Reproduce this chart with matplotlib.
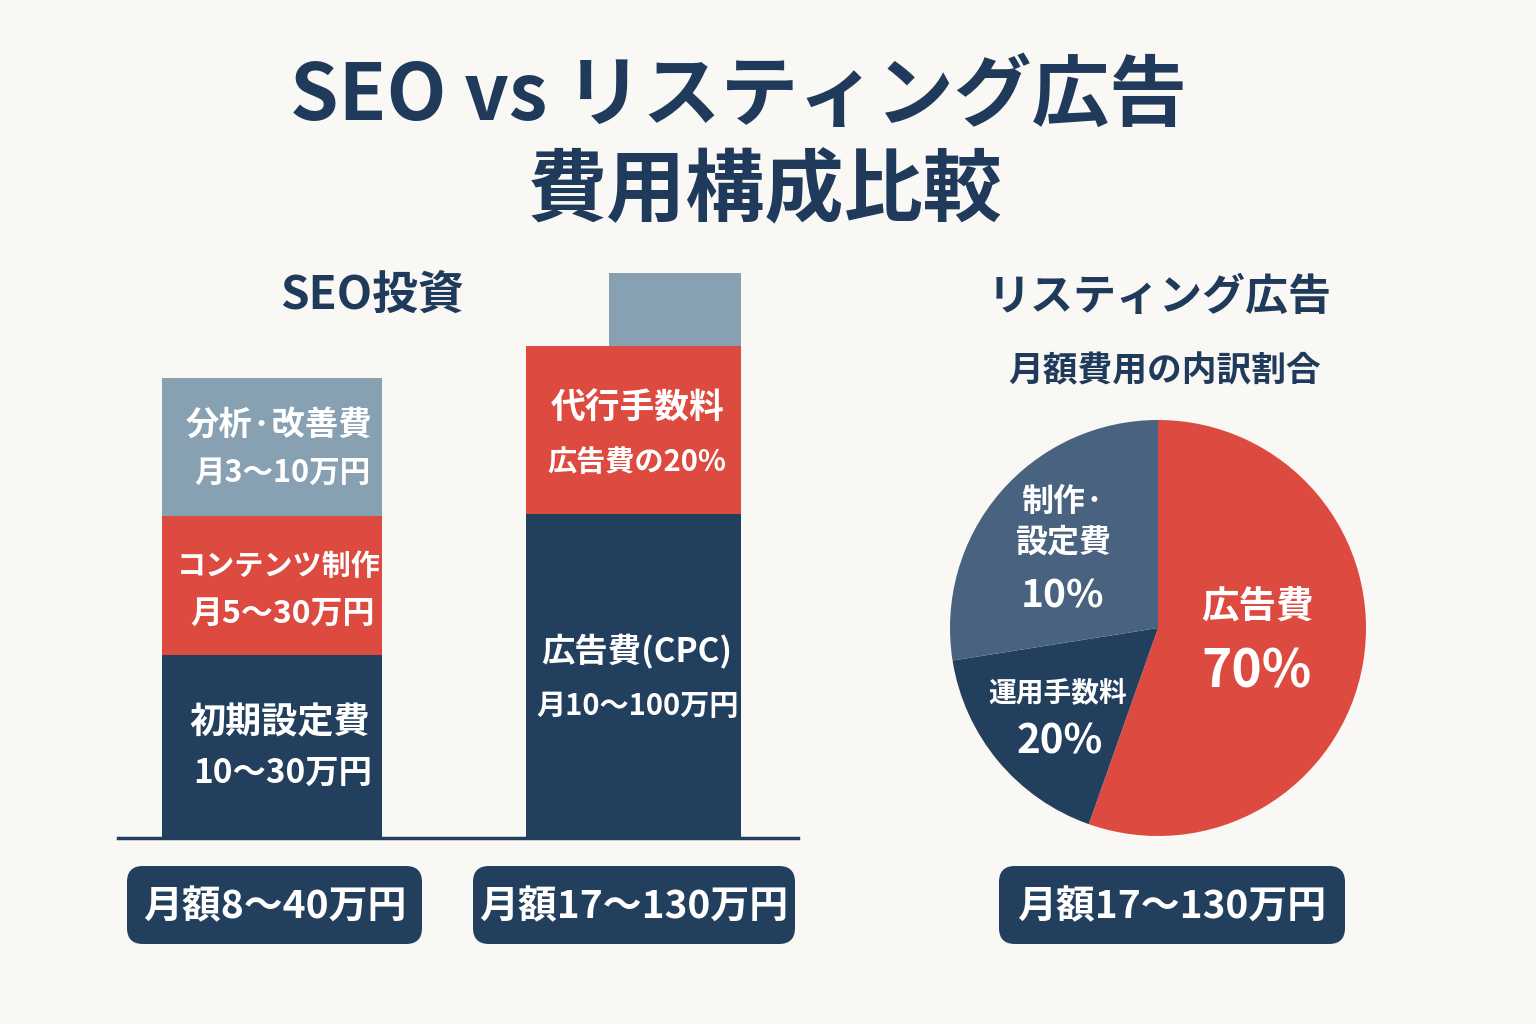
import matplotlib
matplotlib.use("Agg")
import matplotlib.pyplot as plt
from matplotlib.patches import FancyBboxPatch

plt.rcParams['font.family'] = ['Noto Sans CJK JP', 'DejaVu Sans']

# ---------------- data ----------------
title_lines = ["SEO vs リスティング広告", "費用構成比較"]
seo_title = "SEO投資"
listing_title = "リスティング広告"
listing_subtitle = "月額費用の内訳割合"

# stacked segments (bottom -> top), heights in relative units as drawn
seo_heights = [183, 139, 138]
seo_names = ["初期設定費", "コンテンツ制作", "分析·改善費"]
seo_ranges = ["10〜30万円", "月5〜30万円", "月3〜10万円"]

listing_heights = [324, 168, 73]
listing_names = ["広告費(CPC)", "代行手数料", ""]
listing_ranges = ["月10〜100万円", "広告費の20%", ""]

totals = ["月額8〜40万円", "月額17〜130万円", "月額17〜130万円"]

pie_names = ["広告費", "運用手数料", "制作·\n設定費"]
pie_labels = ["70%", "20%", "10%"]
pie_shares = [55.4, 17.1, 27.5]   # slice sizes as drawn

# ---------------- style ----------------
BG = "#f9f8f4"
NAVY = "#233f5e"
RED = "#dd4a3f"
SLATE = "#87a1b3"
PIE_SLATE = "#48627f"
TXT = "#1f3a5a"
seg_colors = [NAVY, RED, SLATE]
pie_colors = [RED, NAVY, PIE_SLATE]

W, H = 1536, 1024
fig = plt.figure(figsize=(W / 100, H / 100), dpi=100, facecolor=BG)

def fx(px):
    return px / W

def fy(py):
    return 1 - py / H

# ---------------- titles ----------------
fig.text(fx(738), fy(97), title_lines[0], ha='center', va='center',
         fontsize=56, fontweight='bold', color=TXT)
fig.text(fx(765), fy(192), title_lines[1], ha='center', va='center',
         fontsize=57, fontweight='bold', color=TXT)
fig.text(fx(372), fy(297), seo_title, ha='center', va='center',
         fontsize=33, fontweight='bold', color=TXT)
fig.text(fx(1160), fy(297), listing_title, ha='center', va='center',
         fontsize=31, fontweight='bold', color=TXT)
fig.text(fx(1165), fy(371), listing_subtitle, ha='center', va='center',
         fontsize=25, fontweight='bold', color=TXT)

# ---------------- bar chart ----------------
left_px, right_px, base_px, top_px = 118, 798, 838, 260
axb = fig.add_axes([fx(left_px), fy(base_px), (right_px - left_px) / W,
                    (base_px - top_px) / H])
axb.set_facecolor('none')
unit = 361.5
axb.set_xlim((left_px - 272) / unit, (right_px - 272) / unit)
axb.set_ylim(0, base_px - top_px)

seo_w = 220 / unit
lst_w = 215 / unit
# label styles (bottom -> top): (name offset, name size, range offset, range size)
seo_lbl = [(24, 26, -27, 24), (20, 21, -28, 23), (22, 24, -26, 22)]
bottom = 0
for h, c, n, r, (no, ns, ro, rs) in zip(seo_heights, seg_colors, seo_names,
                                         seo_ranges, seo_lbl):
    axb.bar(0, h, width=seo_w, bottom=bottom, color=c, edgecolor='none')
    mid = bottom + h / 2
    axb.text(0.02, mid + no, n, ha='center', va='center', fontsize=ns,
             fontweight='bold', color='white')
    axb.text(0.03, mid + ro, r, ha='center', va='center', fontsize=rs,
             fontweight='bold', color='white')
    bottom += h

lst_lbl = [(24, 24, -30, 21), (22, 25, -32, 21), None]
bottom = 0
for i, (h, c, n, r, lb) in enumerate(zip(listing_heights, seg_colors,
                                         listing_names, listing_ranges,
                                         lst_lbl)):
    if lb is None:
        offset = (675 - 633.5) / unit
        axb.bar(1 + offset, h, width=132 / unit, bottom=bottom, color=c,
                edgecolor='none')
    else:
        no, ns, ro, rs = lb
        axb.bar(1, h, width=lst_w, bottom=bottom, color=c, edgecolor='none')
        mid = bottom + h / 2
        axb.text(1.01, mid + no, n, ha='center', va='center', fontsize=ns,
                 fontweight='bold', color='white')
        axb.text(1.01, mid + ro, r, ha='center', va='center', fontsize=rs,
                 fontweight='bold', color='white')
    bottom += h

for s in ['top', 'right', 'left']:
    axb.spines[s].set_visible(False)
axb.spines['bottom'].set_color(NAVY)
axb.spines['bottom'].set_linewidth(2.5)
axb.set_xticks([])
axb.set_yticks([])

# ---------------- pie ----------------
cx, cy, R = 1158, 628, 208
axp = fig.add_axes([fx(cx - R), fy(cy + R), 2 * R / W, 2 * R / H])
axp.pie(pie_shares, colors=pie_colors, startangle=90, counterclock=False,
        radius=1, wedgeprops=dict(edgecolor='none'))
axp.set_xlim(-1, 1)
axp.set_ylim(-1, 1)
axp.set_aspect('auto')
axp.axis('off')

def pp(px, py):
    return ((px - cx) / R, (cy - py) / R)

x, y = pp(1257, 607)
axp.text(x, y, pie_names[0], ha='center', va='center', fontsize=27,
         fontweight='bold', color='white')
x, y = pp(1257, 672)
axp.text(x, y, pie_labels[0], ha='center', va='center', fontsize=37,
         fontweight='bold', color='white')
x, y = pp(1058, 693)
axp.text(x, y, pie_names[1], ha='center', va='center', fontsize=20,
         fontweight='bold', color='white')
x, y = pp(1060, 742)
axp.text(x, y, pie_labels[1], ha='center', va='center', fontsize=29,
         fontweight='bold', color='white')
x, y = pp(1063, 522)
axp.text(x, y, pie_names[2], ha='center', va='center', fontsize=23,
         fontweight='bold', color='white', linespacing=1.35)
x, y = pp(1063, 596)
axp.text(x, y, pie_labels[2], ha='center', va='center', fontsize=28,
         fontweight='bold', color='white')

# ---------------- total boxes ----------------
axo = fig.add_axes([0, 0, 1, 1])
axo.set_xlim(0, W)
axo.set_ylim(H, 0)
axo.axis('off')
axo.set_facecolor('none')
boxes = [(127, 422), (473, 795), (999, 1345)]
for (x0, x1), t in zip(boxes, totals):
    y0, y1 = 866, 944
    patch = FancyBboxPatch((x0 + 14, y0 + 14), x1 - x0 - 28, y1 - y0 - 28,
                           boxstyle="round,pad=14,rounding_size=16",
                           facecolor=NAVY, edgecolor='none')
    axo.add_patch(patch)
    axo.text((x0 + x1) / 2, (y0 + y1) / 2 + 2, t, ha='center', va='center',
             fontsize=28, fontweight='bold', color='white')

fig.savefig("out.png", dpi=100, facecolor=BG)
